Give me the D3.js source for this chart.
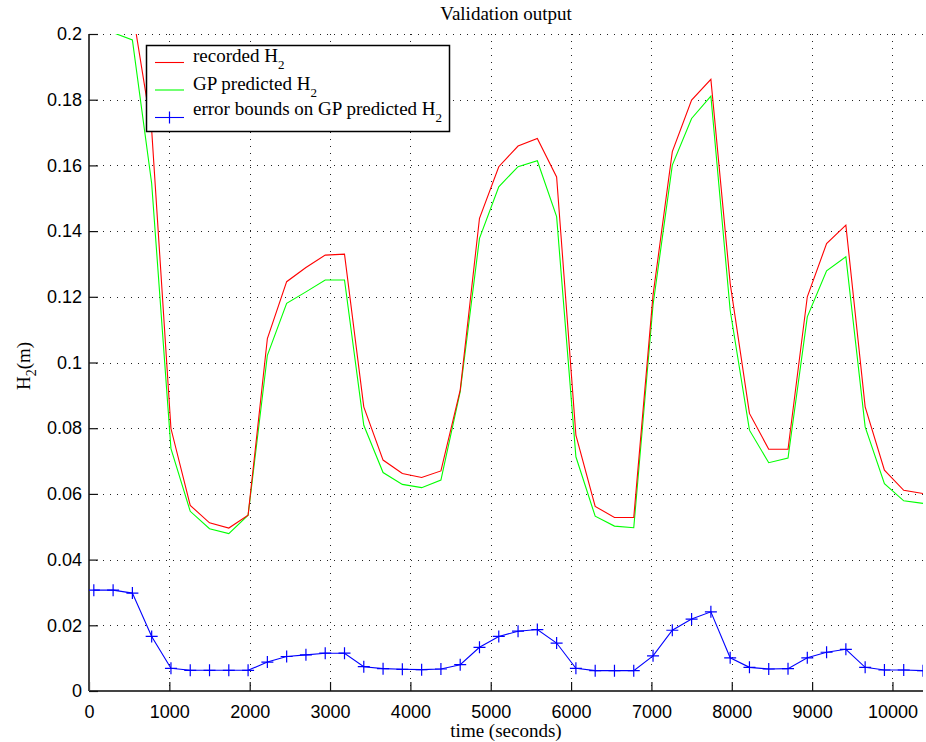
<!DOCTYPE html>
<html>
<head>
<meta charset="utf-8">
<script src="https://cdn.jsdelivr.net/npm/d3@7"></script>
<style>
  html, body { margin: 0; padding: 0; background: #fff; }
  svg { display: block; }
</style>
</head>
<body>
<svg id="chart" width="926" height="742"></svg>
<script>
// Sample times (s): one sample every 240 s
const times = [60, 300, 540, 780, 1020, 1260, 1500, 1740, 1980, 2220, 2460, 2700, 2940, 3180, 3420,
  3660, 3900, 4140, 4380, 4620, 4860, 5100, 5340, 5580, 5820, 6060, 6300, 6540, 6780, 7020,
  7260, 7500, 7740, 7980, 8220, 8460, 8700, 8940, 9180, 9420, 9660, 9900, 10140, 10380];

// Recorded tank level H2 (m)
const recordedH2 = [0.214, 0.211, 0.2073, 0.1708, 0.0799, 0.0565, 0.0512, 0.0496, 0.0535, 0.1073,
  0.1246, 0.1289, 0.1327, 0.1330, 0.0865, 0.0703, 0.0662, 0.0650, 0.0670, 0.0916,
  0.1439, 0.1596, 0.1659, 0.1682, 0.1565, 0.0779, 0.0562, 0.0528, 0.0528, 0.1205,
  0.1642, 0.1799, 0.1862, 0.1241, 0.0845, 0.0736, 0.0736, 0.1200, 0.1362, 0.1418,
  0.0865, 0.0672, 0.0611, 0.0601];

// GP predicted H2 (m)
const predictedH2 = [0.2010, 0.2004, 0.1982, 0.1545, 0.0738, 0.0547, 0.0494, 0.0479, 0.0535, 0.1022,
  0.1180, 0.1215, 0.1251, 0.1251, 0.0809, 0.0665, 0.0629, 0.0619, 0.0642, 0.0911,
  0.1378, 0.1535, 0.1596, 0.1614, 0.1444, 0.0713, 0.0532, 0.0502, 0.0497, 0.1175,
  0.1601, 0.1743, 0.1811, 0.1159, 0.0794, 0.0695, 0.0709, 0.1139, 0.1279, 0.1322,
  0.0804, 0.0631, 0.0579, 0.0571];

// Error bounds on the GP prediction (m)
const errorBounds = [0.0307, 0.0307, 0.0298, 0.0166, 0.0069, 0.0063, 0.0063, 0.0063, 0.0063, 0.0088,
  0.0105, 0.0110, 0.0115, 0.0115, 0.0074, 0.0068, 0.0066, 0.0065, 0.0067, 0.0080,
  0.0133, 0.0166, 0.0182, 0.0187, 0.0146, 0.0069, 0.0062, 0.0062, 0.0062, 0.0107,
  0.0185, 0.0219, 0.0241, 0.0101, 0.0072, 0.0067, 0.0068, 0.0101, 0.0118, 0.0127,
  0.0072, 0.0064, 0.0064, 0.0062];

const xTicks = [0, 1000, 2000, 3000, 4000, 5000, 6000, 7000, 8000, 9000, 10000];
const yTicks = [0, 0.02, 0.04, 0.06, 0.08, 0.1, 0.12, 0.14, 0.16, 0.18, 0.2];

const plot = { left: 89, right: 923, top: 34, bottom: 691 };

const svg = d3.select("#chart");
const x = d3.scaleLinear().domain([0, 10380]).range([plot.left, plot.right]);
const y = d3.scaleLinear().domain([0, 0.2]).range([plot.bottom, plot.top]);

const serif = "'Liberation Serif', 'Times New Roman', serif";
const sans = "'Liberation Sans', Arial, sans-serif";

svg.append("defs").append("clipPath").attr("id", "plotClip")
  .append("rect")
  .attr("x", plot.left).attr("y", plot.top)
  .attr("width", plot.right - plot.left).attr("height", plot.bottom - plot.top);

// Dotted grid
const grid = svg.append("g").attr("stroke", "#222").attr("stroke-width", 1)
  .attr("stroke-dasharray", "1,6");
grid.selectAll("line.gx").data(xTicks.filter(d => d > 0)).join("line")
  .attr("x1", d => Math.round(x(d)) + 0.5).attr("x2", d => Math.round(x(d)) + 0.5)
  .attr("y1", plot.top).attr("y2", plot.bottom);
grid.selectAll("line.gy").data(yTicks.filter(d => d > 0)).join("line")
  .attr("y1", d => Math.round(y(d)) + 0.5).attr("y2", d => Math.round(y(d)) + 0.5)
  .attr("x1", plot.left).attr("x2", plot.right);

// Axes (ticks pointing inward)
const xAxis = svg.append("g")
  .attr("transform", `translate(0,${plot.bottom})`)
  .call(d3.axisBottom(x).tickValues(xTicks).tickSizeInner(-9).tickSizeOuter(0).tickPadding(14)
    .tickFormat(d3.format("d")));
const yAxis = svg.append("g")
  .attr("transform", `translate(${plot.left},0)`)
  .call(d3.axisLeft(y).tickValues(yTicks).tickSizeInner(-9).tickSizeOuter(0).tickPadding(7)
    .tickFormat(d => d === 0 ? "0" : String(+d.toFixed(2))));
[xAxis, yAxis].forEach(a => {
  a.select(".domain").attr("stroke", "#444").attr("stroke-width", 2);
  a.selectAll(".tick line").attr("stroke", "#111").attr("stroke-width", 1.2);
  a.selectAll(".tick text").attr("fill", "#000").style("font-family", sans).style("font-size", "18px");
});
xAxis.select(".domain").attr("d", `M${plot.left},0H${plot.right}`);
yAxis.select(".domain").attr("d", `M0,${plot.bottom}V${plot.top}`);

// Series
const plotArea = svg.append("g").attr("clip-path", "url(#plotClip)");
const line = d3.line().x(d => x(d[0])).y(d => y(d[1]));

const seriesRec = times.map((t, i) => [t, recordedH2[i]]);
const seriesPred = times.map((t, i) => [t, predictedH2[i]]);
const seriesErr = times.map((t, i) => [t, errorBounds[i]]);

plotArea.append("path").datum(seriesPred).attr("d", line)
  .attr("fill", "none").attr("stroke", "#00ff00").attr("stroke-width", 1.1);
plotArea.append("path").datum(seriesRec).attr("d", line)
  .attr("fill", "none").attr("stroke", "#ff0000").attr("stroke-width", 1.1);
plotArea.append("path").datum(seriesErr).attr("d", line)
  .attr("fill", "none").attr("stroke", "#0000ff").attr("stroke-width", 1.1);

const plus = (cx, cy, r) => `M${cx - r},${cy}H${cx + r}M${cx},${cy - r}V${cy + r}`;
plotArea.selectAll("path.marker").data(seriesErr).join("path")
  .attr("class", "marker")
  .attr("d", d => plus(x(d[0]), y(d[1]), 6))
  .attr("stroke", "#0000ff").attr("stroke-width", 1.2).attr("fill", "none");

// Title and axis labels
svg.append("text").attr("x", 506).attr("y", 20).attr("text-anchor", "middle")
  .style("font-family", serif).style("font-size", "19px").text("Validation output");

svg.append("text").attr("x", 506).attr("y", 737).attr("text-anchor", "middle")
  .style("font-family", serif).style("font-size", "19px").text("time (seconds)");

const yl = svg.append("text")
  .attr("transform", "translate(30,366) rotate(-90)")
  .attr("text-anchor", "middle")
  .style("font-family", serif).style("font-size", "19px");
yl.append("tspan").text("H");
yl.append("tspan").attr("dy", 6).style("font-size", "14px").text("2");
yl.append("tspan").attr("dy", -6).text("(m)");

// Legend
const legendItems = [
  { label: "recorded H", color: "#ff0000", marker: false },
  { label: "GP predicted H", color: "#00ff00", marker: false },
  { label: "error bounds on GP predicted H", color: "#0000ff", marker: true }
];
const lg = svg.append("g");
lg.append("rect").attr("x", 146.5).attr("y", 45.5).attr("width", 303).attr("height", 86)
  .attr("fill", "#fff").attr("stroke", "#000").attr("stroke-width", 1.5);
legendItems.forEach((item, i) => {
  const cy = 62 + i * 27.5;
  lg.append("line").attr("x1", 155).attr("x2", 184).attr("y1", cy + 0.5).attr("y2", cy + 0.5)
    .attr("stroke", item.color).attr("stroke-width", 1.1);
  if (item.marker) {
    lg.append("path").attr("d", plus(169.5, cy + 0.5, 6))
      .attr("stroke", item.color).attr("stroke-width", 1.2);
  }
  const t = lg.append("text").attr("x", 193).attr("y", cy - (item.marker ? 2 : 0))
    .style("font-family", serif).style("font-size", "19px");
  t.append("tspan").text(item.label);
  t.append("tspan").attr("dy", 7).style("font-size", "13px").text("2");
});
</script>
</body>
</html>
